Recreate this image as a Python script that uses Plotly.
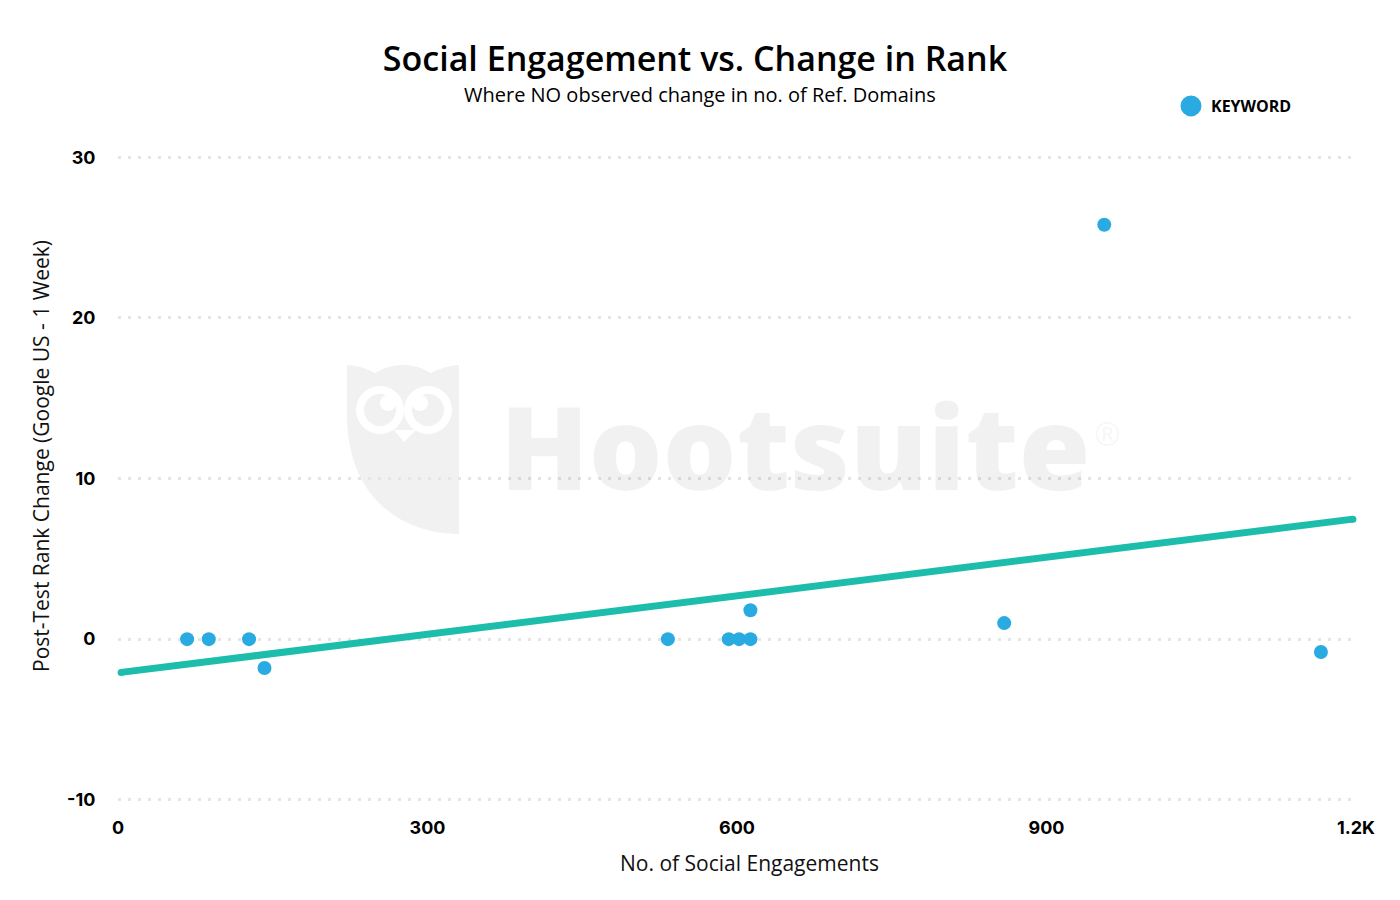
import plotly.graph_objects as go

# values
engagements = [67, 88, 127, 142, 533, 592, 602, 613, 613, 859, 956, 1166]
rank_change = [0, 0, 0, -1.8, 0, 0, 0, 0, 1.8, 1, 25.8, -0.8]
trend_x = [3, 1197]
trend_y = [-2.07, 7.47]
x_ticks = [0, 300, 600, 900, 1200]
x_labels = ["0", "300", "600", "900", "1.2K"]
y_ticks = [-10, 0, 10, 20, 30]
y_labels = ["-10", "0", "10", "20", "30"]

BLUE = "#29abe2"
TEAL = "#1dbdab"
LOGO = "#f1f1f1"
W, H = 1400, 900
# y range is a touch wider than the ticks so the top and bottom gridlines get drawn
LEFT, RIGHT, TOP, BOTTOM = 118, 1356, 154, 803


# paper coordinates are relative to the plot area, so go from picture pixels
def px(x):
    return (x - LEFT) / (RIGHT - LEFT)


def py(y):
    return (BOTTOM - y) / (BOTTOM - TOP)


def owl_path():
    pts = "M347,365 Q362,366 375,373 Q388,365 403,365 Q418,365 431,373 Q444,366 459,365 L459,534 "
    pts += "C405,534 347,500 347,415 Z"
    out = []
    for tok in pts.split():
        cmd = tok[0] if tok[0].isalpha() else ""
        nums = tok[1:] if cmd else tok
        if not nums:
            out.append(cmd)
            continue
        a, b = nums.split(",")
        out.append(f"{cmd}{px(float(a)):.5f},{py(float(b)):.5f}")
    return " ".join(out)


def oval(cx, cy, rx, ry, color):
    return dict(type="circle", xref="paper", yref="paper", layer="below",
                x0=px(cx - rx), x1=px(cx + rx), y0=py(cy + ry), y1=py(cy - ry),
                fillcolor=color, line_width=0)


shapes = [dict(type="path", xref="paper", yref="paper", layer="below", path=owl_path(),
               fillcolor=LOGO, line_width=0)]
for cx, pupil in [(380, 388), (428, 420)]:
    shapes.append(oval(cx, 410, 24, 24, "white"))
    shapes.append(oval(cx, 410, 16, 16, LOGO))
    shapes.append(oval(pupil, 403, 8, 8, "white"))
shapes.append(dict(type="path", xref="paper", yref="paper", layer="below",
                   path=f"M{px(394)},{py(430)} L{px(416)},{py(430)} L{px(404)},{py(442)} Z",
                   fillcolor="white", line_width=0))

fig = go.Figure()
fig.add_trace(go.Scatter(x=trend_x, y=trend_y, mode="lines+markers", showlegend=False,
                         line=dict(color=TEAL, width=7), marker=dict(color=TEAL, size=7),
                         cliponaxis=False, hoverinfo="skip"))
fig.add_trace(go.Scatter(x=engagements, y=rank_change, mode="markers", showlegend=False,
                         marker=dict(color=BLUE, size=14), cliponaxis=False))
# bigger dot for the legend only, legend caps size at 16 so the outline makes up the rest
fig.add_trace(go.Scatter(x=[None], y=[None], mode="markers", name="KEYWORD",
                         marker=dict(color=BLUE, size=16, line=dict(color=BLUE, width=5))))

annotations = [
    dict(text="Where NO observed change in no. of Ref. Domains", x=px(700), y=py(94),
         font=dict(family="Open Sans", size=20, color="#000")),
    dict(text="No. of Social Engagements", x=px(749), y=py(863),
         font=dict(family="Open Sans", size=21, color="#111")),
    dict(text="Post-Test Rank Change (Google US - 1 Week)", x=px(41), y=py(456), textangle=-90,
         font=dict(family="Open Sans", size=21, color="#111")),
    dict(text="Hootsuite", x=px(795), y=py(445),
         font=dict(family="Open Sans", size=116, color="rgba(0,0,0,0.055)", weight=800)),
    dict(text="®", x=px(1107), y=py(433),
         font=dict(family="Open Sans", size=32, color="rgba(0,0,0,0.055)")),
]
for a in annotations:
    a.update(xref="paper", yref="paper", showarrow=False, xanchor="center", yanchor="middle")

tick_style = dict(zeroline=False, showline=False, ticks="outside", tickcolor="rgba(0,0,0,0)",
                  tickfont=dict(family="Inter", size=18, color="#000", weight=700))

fig.update_layout(
    width=W, height=H, plot_bgcolor="white", paper_bgcolor="white",
    margin=dict(l=LEFT, r=W - RIGHT, t=TOP, b=H - BOTTOM),
    title=dict(text="Social Engagement vs. Change in Rank", x=695 / W, xanchor="center",
               y=1 - 59 / H, yanchor="middle",
               font=dict(family="Open Sans", size=34, color="#000", weight=600)),
    xaxis=dict(range=[0, 1200], tickvals=x_ticks, ticktext=x_labels, ticklen=8,
               showgrid=False, **tick_style),
    yaxis=dict(range=[-10.2, 30.2], tickvals=y_ticks, ticktext=y_labels, ticklen=18,
               showgrid=True, gridcolor="#e2e6e6", griddash="3px,7px", gridwidth=2.5, **tick_style),
    legend=dict(x=px(1171), y=py(106), xanchor="left", yanchor="middle", itemsizing="trace",
                font=dict(family="Open Sans", size=16, color="#000", weight=700),
                bgcolor="rgba(0,0,0,0)"),
    annotations=annotations, shapes=shapes, showlegend=True,
)

fig.write_html("out.html", config=dict(displayModeBar=False),
               post_script="document.body.style.margin='0';")
